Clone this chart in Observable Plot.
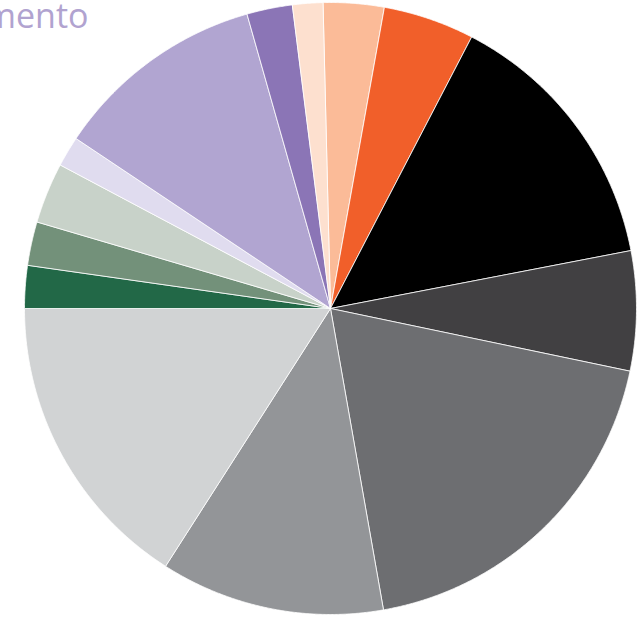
<!DOCTYPE html>
<html>
<head>
<meta charset="utf-8">
<script src="https://cdn.jsdelivr.net/npm/d3@7"></script>
<script src="https://cdn.jsdelivr.net/npm/@observablehq/plot@0.6"></script>
<style>
  html, body { margin: 0; padding: 0; background: #ffffff; }
  #chart { width: 640px; height: 617px; overflow: hidden; }
</style>
</head>
<body>
<div id="chart"></div>
<script>
// Slices, clockwise from the top of the pie
const categories = [
  "Categoria 1", "Categoria 2", "Categoria 3", "Categoria 4", "Categoria 5",
  "Categoria 6", "Categoria 7", "Categoria 8", "Categoria 9", "Categoria 10",
  "Categoria 11", "Categoria 12", "Categoria 13", "Categoria 14"
];
const values = [3.2, 4.8, 14.3, 6.3, 18.9, 11.8, 15.9, 2.25, 2.3, 3.2, 1.6, 11.2, 2.4, 1.6];
const colors = [
  "#fbbb98", "#f15f2a", "#000000", "#414042", "#6d6e71",
  "#939598", "#d1d3d4", "#226847", "#73917a", "#c8d2c9",
  "#e0dcef", "#b1a5d1", "#8b75b6", "#fde0cf"
];
const labelText = ["mento"];
const startDegrees = -1.4;

// geometry in pie units (radius = 1)
const W = 640, H = 617, R = 306, CX = 330, CY = 308;

const pie = d3.pie().sort(null).value(d => d.value)
  .startAngle(startDegrees * Math.PI / 180)
  .endAngle(startDegrees * Math.PI / 180 + 2 * Math.PI);

const data = categories.map((c, i) => ({category: c, value: values[i], color: colors[i]}));
const arcs = pie(data);

const pts = [];
for (const a of arcs) {
  const id = a.data.category;
  pts.push({id, x: 0, y: 0});
  const n = Math.max(2, Math.ceil((a.endAngle - a.startAngle) / (Math.PI / 720)));
  for (let k = 0; k <= n; k++) {
    const t = a.startAngle + (a.endAngle - a.startAngle) * k / n;
    pts.push({id, x: Math.sin(t), y: Math.cos(t)});
  }
  pts.push({id, x: 0, y: 0});
}

const plot = Plot.plot({
  width: W,
  height: H,
  margin: 0,
  x: {domain: [-CX / R, (W - CX) / R], axis: null},
  y: {domain: [-(H - CY) / R, CY / R], axis: null},
  color: {domain: categories, range: colors},
  marks: [
    Plot.line(pts, {
      x: "x", y: "y", z: "id",
      fill: "id",
      stroke: "#ffffff",
      strokeWidth: 0.8,
      strokeLinejoin: "round"
    }),
    Plot.text(labelText, {
      text: d => d,
      frameAnchor: "top-left",
      textAnchor: "start",
      lineAnchor: "bottom",
      dx: -16,
      dy: 27,
      fontSize: 34,
      fontFamily: "Open Sans",
      fill: "#b1a3d0"
    })
  ]
});

document.getElementById("chart").appendChild(plot);
</script>
</body>
</html>
